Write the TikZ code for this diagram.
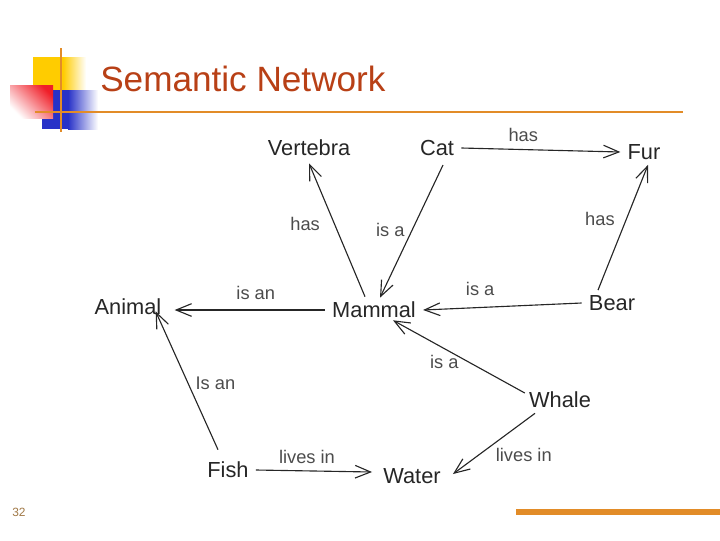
\documentclass[tikz,border=0pt]{standalone}
\usepackage{fontspec}
\setmainfont{Liberation Sans}
\usepackage{xcolor}
\usepackage{tikz}
\usetikzlibrary{calc, arrows.meta, positioning}

\definecolor{titlered}{RGB}{184,64,22}
\definecolor{barorange}{RGB}{226,140,40}
\definecolor{decoyellow}{RGB}{255,204,0}
\definecolor{decored}{RGB}{240,30,40}
\definecolor{decoblue}{RGB}{40,50,200}
\definecolor{pagebrown}{RGB}{160,120,70}

\tikzset{
    concept/.style={inner sep=5pt, text=black!85, font=\fontsize{15.5}{18}\selectfont},
    relation/.style={inner sep=2pt, text=black!70, font=\fontsize{13}{15}\selectfont},
    link/.style={->, line width=0.8pt, draw=black!85}
}

\begin{document}
\begin{tikzpicture}[x=0.025cm, y=-0.025cm,
    >={Straight Barb[length=11pt, width=9pt, line width=0.8pt]}]

    \useasboundingbox (0,0) rectangle (720,540);

    % =================================================================
    % 1. TRANG TRI GOC TRAI VA TIEU DE
    % =================================================================
    \fill[decoyellow] (33,57) rectangle (63,95);
    \shade[left color=decoyellow, right color=white] (63,57) rectangle (86,95);
    \fill[decoblue] (42,90) rectangle (68,129);
    \shade[left color=decoblue, right color=white] (68,90) rectangle (98,129);
    \shade[shading=axis, top color=decored, bottom color=white, shading angle=-45] (10,85) rectangle (53,118);
    \draw[barorange, line width=2pt] (61,48) -- (61,132);
    \draw[barorange, line width=2pt] (35,112) -- (683,112);

    \node[anchor=base west, inner sep=0pt, text=titlered, font=\fontsize{25}{30}\selectfont] (title) at (100,91) {Semantic Network};

    % =================================================================
    % 2. CAC KHAI NIEM
    % =================================================================
    \node[concept] (vertebra) at (309,148) {Vertebra};
    \node[concept] (cat) at (437,148) {Cat};
    \node[concept] (fur) at (644,152) {Fur};
    \node[concept] (animal) at (128,307) {Animal};
    \node[concept] (mammal) at (374,310) {Mammal};
    \node[concept] (bear) at (612,303) {Bear};
    \node[concept] (whale) at (560,400) {Whale};
    \node[concept] (fish) at (228,470) {Fish};
    \node[concept] (water) at (412,476) {Water};

    % =================================================================
    % 3. CAC QUAN HE
    % =================================================================
    \draw[link] (cat.east) -- node[relation, pos=0.39, above=3pt] {has} (fur.west);
    \draw[link] ($(mammal.north)+(-9,2)$) -- node[relation, pos=0.545, left=8pt] {has} (vertebra.south);
    \draw[link] ($(cat.south)+(6,2)$) -- node[relation, pos=0.49, left=3pt] {is a} ($(mammal.north)+(6,3)$);
    \draw[link] (bear.west) -- node[relation, pos=0.64, above=6pt] {is a} (mammal.east);
    \draw[link] ($(bear.north)+(-14,2)$) -- node[relation, pos=0.57, left=6pt] {has} ($(fur.south)+(4,-2)$);
    \draw[link] (mammal.west) -- node[relation, pos=0.46, above=5pt] {is an} ($(animal.east)+(6,3)$);
    \draw[link] ($(fish.north)+(-10,-5)$) -- node[relation, pos=0.48, right=3pt] {Is an} ($(animal.south east)+(-13,-11)$);
    \draw[link] (fish.east) -- node[relation, pos=0.44, above=2.5pt] {lives in} ($(water.west)+(-4,-4)$);
    \draw[link] ($(whale.west)+(3,-7)$) -- node[relation, pos=0.61, below=2pt] {is a} ($(mammal.south)+(19,-5)$);
    \draw[link] ($(whale.south)+(-25,-2)$) -- node[relation, pos=0.69, right=10pt] {lives in} ($(water.east)+(5,-2)$);

    % =================================================================
    % 4. CHAN TRANG
    % =================================================================
    \node[text=pagebrown, inner sep=0pt, font=\fontsize{8.5}{10}\selectfont] (pagenum) at (19,512) {32};
    \draw[barorange, line width=3.6pt] (516,512) -- (720,512);

\end{tikzpicture}
\end{document}
